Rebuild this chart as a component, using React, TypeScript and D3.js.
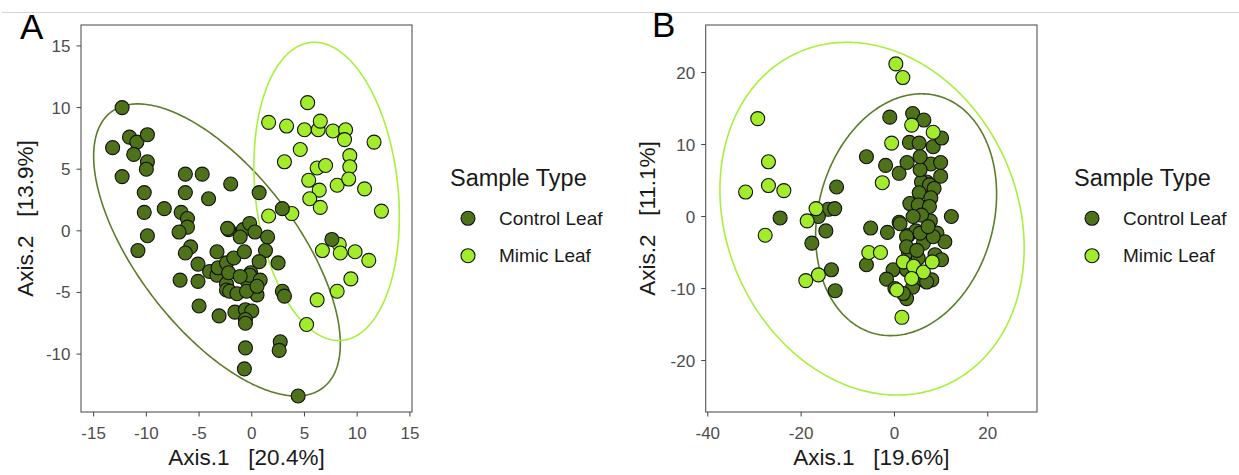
import React from "react";
import * as d3 from "d3";

// ---------- DATA ----------
type Pt = [number, number];

const groups = ["Control Leaf", "Mimic Leaf"];
const groupColors = ["#4e7219", "#a3ec2b"];
const ellipseColors = ["#5a7d2a", "#a8f03c"];

// Panel A
const aControl: Pt[] = [
  [-12.3, 10.0], [-13.2, 6.75], [-11.6, 7.6], [-10.9, 7.2], [-9.9, 7.8], [-11.2, 6.2],
  [-9.9, 5.6], [-10.0, 5.0], [-12.3, 4.4], [-10.2, 3.1], [-10.2, 1.5], [-6.3, 4.6],
  [-4.7, 4.6], [-6.3, 3.1], [-4.1, 2.6], [-2.0, 3.8], [0.7, 3.1], [-8.3, 1.8],
  [-6.7, 1.5], [-6.1, 1.0], [-6.1, 0.3], [-6.9, -0.1], [2.9, 1.8], [-2.2, 0.1],
  [-0.8, 0.1], [-0.2, 0.6], [0.3, -0.1], [1.5, -0.5], [7.6, -0.7], [-9.9, -0.4],
  [-10.8, -1.6], [-5.8, -1.3], [-6.3, -1.8], [-3.3, -1.7], [-5.1, -2.7], [-4.0, -3.3],
  [-3.3, -3.6], [-3.2, -3.0], [-2.4, -2.6], [-1.7, -2.2], [-0.7, -1.7], [-1.1, -0.5],
  [1.3, -1.6], [0.7, -2.5], [2.5, -2.6], [-6.8, -4.0], [-5.1, -4.1], [-2.4, -4.3],
  [-2.4, -4.8], [-2.1, -4.9], [-1.4, -5.1], [-0.5, -4.0], [-0.1, -3.4], [-0.2, -3.6],
  [0.8, -4.0], [0.5, -5.2], [-0.5, -4.9], [2.9, -4.9], [3.1, -5.3], [-5.0, -6.1],
  [-3.1, -6.9], [-1.6, -6.6], [-0.6, -6.4], [0.0, -6.5], [-0.6, -7.2], [-0.6, -7.5],
  [2.7, -9.0], [2.6, -9.7], [-0.6, -9.5], [-0.7, -11.2], [4.4, -13.4], [-2.3, 0.2],
  [-2.2, -3.4], [-1.1, -3.7], [0.5, -4.5],
];
const aMimic: Pt[] = [
  [5.3, 10.4], [1.6, 8.8], [3.3, 8.5], [5.0, 8.2], [6.3, 8.2], [6.5, 8.9], [7.7, 8.1],
  [8.9, 8.2], [8.8, 7.4], [11.6, 7.2], [4.6, 6.6], [3.1, 5.6], [6.2, 5.1], [7.0, 5.3],
  [9.3, 6.1], [9.3, 5.2], [5.4, 4.1], [6.4, 3.3], [8.1, 3.7], [9.2, 4.2], [10.7, 3.4],
  [5.5, 2.6], [6.5, 1.9], [12.3, 1.6], [1.6, 1.2], [3.8, 1.4], [6.7, -1.6], [8.3, -1.1],
  [8.4, -1.8], [9.8, -1.7], [11.1, -2.4], [9.4, -3.9], [8.1, -4.9], [6.2, -5.6], [5.2, -7.6],
];
// ellipse: [cx, cy, varX, varY, covXY]
const aEllipses: number[][] = [
  [-3.3, -1.55, 136.9, 140.4, -89],
  [7.1, 3.2, 47.6, 146.4, -14],
];
const aXTicks = [-15, -10, -5, 0, 5, 10, 15];
const aYTicks = [-10, -5, 0, 5, 10, 15];
const aXDomain = [-16.2, 15.2];
const aYDomain = [-14.7, 16.7];

// Panel B
const bControl: Pt[] = [
  [-24.5, -0.2], [-12.4, 4.1], [-14.2, 1.0], [-12.8, 1.1], [-16.3, 0.0], [-14.7, -2.0],
  [-17.7, -3.7], [-13.5, -7.4], [-12.7, -10.3], [-1.0, 13.8], [3.9, 14.3], [6.3, 13.4],
  [-6.0, 8.3], [-1.9, 7.1], [1.0, 6.0], [2.7, 7.5], [3.2, 10.3], [5.3, 10.2], [8.3, 9.7],
  [10.1, 10.9], [7.8, 7.3], [9.9, 7.5], [9.9, 5.6], [6.9, 4.8], [5.8, 4.8], [7.5, 4.4],
  [5.3, 3.3], [8.5, 3.9], [7.8, 2.6], [3.3, 1.8], [5.1, 1.6], [7.5, 1.4], [7.7, -0.6],
  [12.2, 0.0], [1.0, -0.8], [-5.1, -1.6], [-1.5, -2.2], [3.0, -2.6], [4.6, -2.0],
  [6.4, -2.7], [9.1, -2.3], [5.8, 0.2], [6.2, -3.7], [10.8, -3.5], [3.0, -4.9],
  [5.1, -5.8], [8.7, -5.3], [10.1, -6.0], [-6.0, -6.7], [-0.3, -7.4], [-1.7, -8.7],
  [0.1, -10.0], [3.9, -9.8], [6.2, -8.8], [8.0, -8.8], [2.6, -11.4], [1.9, -10.7],
  [2.6, -7.4], [6.9, -9.1], [1.2, -1.0], [2.6, -2.8], [8.3, -2.8], [5.5, -2.3],
  [7.2, -1.4], [2.6, -4.2], [4.8, -4.7], [4.0, 0.0], [5.5, 6.5], [5.5, 8.3],
];
const bMimic: Pt[] = [
  [-29.3, 13.6], [-27.0, 7.6], [-31.9, 3.4], [-27.0, 4.3], [-23.7, 3.6], [-27.7, -2.6],
  [-18.7, -0.6], [-16.8, 1.1], [-19.0, -8.9], [-16.3, -8.1], [0.3, 21.2], [1.8, 19.3],
  [3.7, 12.7], [8.3, 11.7], [-0.6, 10.2], [-2.6, 4.7], [-5.5, -5.0], [-3.0, -5.0],
  [1.9, -6.3], [4.1, -6.9], [6.2, -7.7], [8.1, -6.3], [1.6, -14.0], [0.5, -10.2], [3.7, -8.6],
];
const bEllipses: number[][] = [
  [2.5, 0.25, 376, 282, 55.4],
  [-4.8, -0.3, 1062.8, 600.25, -132],
];
const bXTicks = [-40, -20, 0, 20];
const bYTicks = [-20, -10, 0, 10, 20];
const bXDomain = [-40.45, 30.55];
const bYDomain = [-27.15, 26.6];

const FONT = "'Liberation Sans', Arial, Helvetica, sans-serif";

function ellipsePath(e: number[], sx: d3.ScaleLinear<number, number>, sy: d3.ScaleLinear<number, number>) {
  const [cx, cy, vx, vy, cxy] = e;
  const a = Math.sqrt(vx);
  const b = cxy / a;
  const c = Math.sqrt(vy - b * b);
  const pts: [number, number][] = d3.range(0, 361).map((deg) => {
    const t = (deg * Math.PI) / 180;
    return [sx(cx + a * Math.cos(t)), sy(cy + b * Math.cos(t) + c * Math.sin(t))];
  });
  return d3.line()(pts) || "";
}

interface PanelProps {
  letter: string;
  left: number;
  right: number;
  top: number;
  bottom: number;
  xDomain: number[];
  yDomain: number[];
  xTicks: number[];
  yTicks: number[];
  control: Pt[];
  mimic: Pt[];
  ellipses: number[][];
  mimicOnTop: boolean;
  xTitle: string;
  yTitle: string;
  letterX: number;
  letterY: number;
  yTitleX: number;
  legendX: number;
}

function Panel(p: PanelProps) {
  const sx = d3.scaleLinear().domain(p.xDomain).range([p.left, p.right]);
  const sy = d3.scaleLinear().domain(p.yDomain).range([p.bottom, p.top]);
  const ctrl = p.control.map((d) => ({ d, g: 0 }));
  const mim = p.mimic.map((d) => ({ d, g: 1 }));
  const pts = p.mimicOnTop ? [...ctrl, ...mim] : [...mim, ...ctrl];
  const cxm = (p.left + p.right) / 2;
  const cym = (p.top + p.bottom) / 2;
  return (
    <g>
      <text x={p.letterX} y={p.letterY} fontSize={35} fontFamily={FONT} fill="#000">{p.letter}</text>
      <rect x={p.left} y={p.top} width={p.right - p.left} height={p.bottom - p.top} fill="#fff" stroke="#555" strokeWidth={1.1} />
      {p.ellipses.map((e, i) => (
        <path key={i} d={ellipsePath(e, sx, sy)} fill="none" stroke={ellipseColors[i]} strokeWidth={1.6} />
      ))}
      {pts.map((pt, i) => (
        <circle key={i} cx={sx(pt.d[0])} cy={sy(pt.d[1])} r={7} fill={groupColors[pt.g]} stroke="#111" strokeWidth={1.1} />
      ))}
      {p.xTicks.map((t) => (
        <g key={"x" + t}>
          <line x1={sx(t)} x2={sx(t)} y1={p.bottom} y2={p.bottom + 4.5} stroke="#444" strokeWidth={1} />
          <text x={sx(t)} y={p.bottom + 27} textAnchor="middle" fontSize={17} fontFamily={FONT} fill="#4d4d4d">{t}</text>
        </g>
      ))}
      {p.yTicks.map((t) => (
        <g key={"y" + t}>
          <line x1={p.left - 4.5} x2={p.left} y1={sy(t)} y2={sy(t)} stroke="#444" strokeWidth={1} />
          <text x={p.left - 10.5} y={sy(t) + 6} textAnchor="end" fontSize={17} fontFamily={FONT} fill="#4d4d4d">{t}</text>
        </g>
      ))}
      <text x={cxm} y={465} textAnchor="middle" fontSize={22.5} fontFamily={FONT} fill="#1a1a1a" style={{ whiteSpace: "pre" }}>{p.xTitle}</text>
      <text transform={`translate(${p.yTitleX},${cym}) rotate(-90)`} textAnchor="middle" fontSize={22.5} fontFamily={FONT} fill="#1a1a1a" style={{ whiteSpace: "pre" }}>{p.yTitle}</text>
      <text x={p.legendX} y={185.5} fontSize={23.5} fontFamily={FONT} fill="#1a1a1a">Sample Type</text>
      {groups.map((g, i) => (
        <g key={g}>
          <circle cx={p.legendX + 18} cy={218.3 + i * 37.4} r={7} fill={groupColors[i]} stroke="#111" strokeWidth={1.1} />
          <text x={p.legendX + 49} y={218.3 + i * 37.4 + 6.5} fontSize={19} fontFamily={FONT} fill="#1a1a1a">{g}</text>
        </g>
      ))}
    </g>
  );
}

export default function App() {
  return (
    <svg width={1239} height={475} style={{ position: "absolute", left: 0, top: 0, background: "#fff" }}>
      <rect x={0} y={0} width={1239} height={475} fill="#fff" />
      <line x1={2} x2={1239} y1={12.5} y2={12.5} stroke="#d6d6d6" strokeWidth={1} />
      <Panel
        letter="A" letterX={20} letterY={39.3}
        left={81} right={412} top={25} bottom={412}
        xDomain={aXDomain} yDomain={aYDomain} xTicks={aXTicks} yTicks={aYTicks}
        control={aControl} mimic={aMimic} ellipses={aEllipses} mimicOnTop={false}
        xTitle="Axis.1   [20.4%]" yTitle="Axis.2   [13.9%]" yTitleX={33} legendX={450}
      />
      <Panel
        letter="B" letterX={652} letterY={37.3}
        left={705.7} right={1037} top={25} bottom={412}
        xDomain={bXDomain} yDomain={bYDomain} xTicks={bXTicks} yTicks={bYTicks}
        control={bControl} mimic={bMimic} ellipses={bEllipses} mimicOnTop={true}
        xTitle="Axis.1   [19.6%]" yTitle="Axis.2   [11.1%]" yTitleX={655} legendX={1074}
      />
    </svg>
  );
}
